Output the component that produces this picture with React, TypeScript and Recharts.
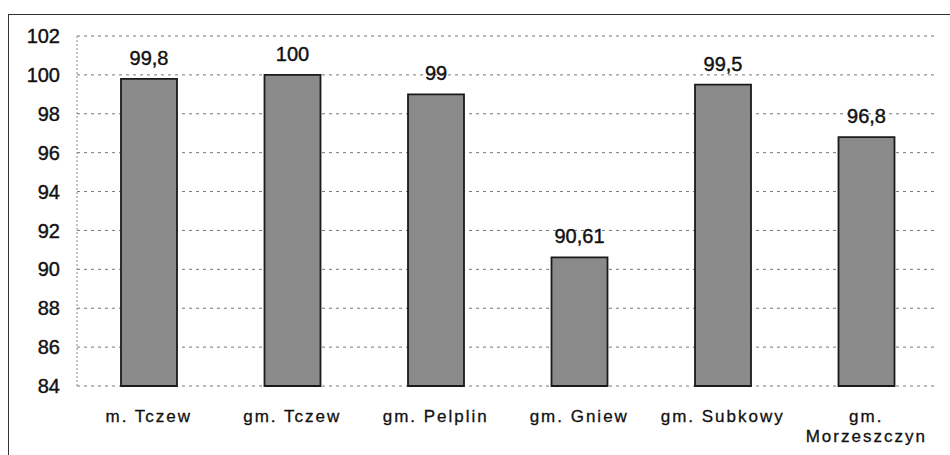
import { BarChart, Bar, XAxis, YAxis, CartesianGrid, LabelList } from "recharts";

const gminy = ["m. Tczew", "gm. Tczew", "gm. Pelplin", "gm. Gniew", "gm. Subkowy", "gm. Morzeszczyn"];
const procent = [99.8, 100, 99, 90.61, 99.5, 96.8];
const yTicks = [84, 86, 88, 90, 92, 94, 96, 98, 100, 102];

const data = gminy.map((name, i) => ({ name, value: procent[i] }));

const FONT = "'Liberation Sans', Arial, sans-serif";

function CategoryTick({ x, y, payload }: any) {
  const label: string = payload.value;
  // long names go on two lines like in the original
  const cut = label.indexOf(" ");
  const lines = label.length > 12 ? [label.slice(0, cut), label.slice(cut + 1)] : [label];
  return (
    <text
      x={x}
      y={y}
      textAnchor="middle"
      fontSize={17}
      letterSpacing={2}
      fontFamily={FONT}
      fill="#111"
      stroke="#111"
      strokeWidth={0.3}
    >
      {lines.map((l, i) => (
        <tspan key={i} x={x} dy={i === 0 ? 28 : 20}>
          {l}
        </tspan>
      ))}
    </text>
  );
}

export default function App() {
  return (
    <div style={{ position: "absolute", left: 0, top: 0, width: 950, height: 455, overflow: "hidden", background: "#fff" }}>
      <div
        style={{
          position: "absolute",
          left: 8,
          top: 14,
          width: 950,
          height: 470,
          borderLeft: "1.5px solid #333",
          borderTop: "1.5px solid #333",
          boxSizing: "border-box",
        }}
      />
      <BarChart
        width={950}
        height={455}
        data={data}
        margin={{ top: 36, right: 12, left: 0, bottom: 0 }}
        barCategoryGap={0}
      >
        <CartesianGrid vertical={false} stroke="#777" strokeDasharray="3 4" />
        <XAxis dataKey="name" height={69} tickLine={false} axisLine={false} tick={<CategoryTick />} interval={0} />
        <YAxis
          width={77}
          domain={[84, 102]}
          ticks={yTicks}
          interval={0}
          tickLine={false}
          axisLine={{ stroke: "#888", strokeDasharray: "2 2" }}
          tick={{ fontSize: 20, fill: "#111", stroke: "#111", strokeWidth: 0.4, fontFamily: FONT }}
          tickMargin={11}
        />
        <Bar dataKey="value" barSize={56} fill="#8a8a8a" stroke="#1a1a1a" strokeWidth={1.8} isAnimationActive={false}>
          <LabelList
            dataKey="value"
            position="top"
            offset={14}
            fontSize={20}
            fontFamily={FONT}
            fill="#111"
            stroke="#111"
            strokeWidth={0.4}
            formatter={(v: any) => String(v).replace(".", ",")}
          />
        </Bar>
      </BarChart>
    </div>
  );
}
